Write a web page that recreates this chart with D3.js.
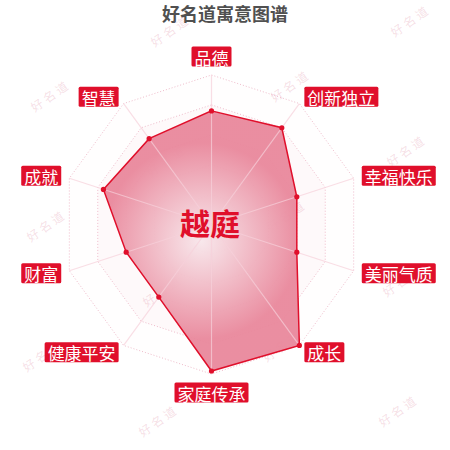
<!DOCTYPE html>
<html>
<head>
<meta charset="utf-8">
<script src="https://cdn.jsdelivr.net/npm/d3@7"></script>
<style>
  html, body { margin: 0; padding: 0; background: #fff; }
  svg { display: block; }
  text { font-family: "Noto Sans CJK SC", "Noto Sans", sans-serif; }
</style>
</head>
<body>
<svg id="chart" width="450" height="450"></svg>
<script>
// ---- data ----
const title = "好名道寓意图谱";
const centerName = "越庭";
const indicators = ["品德", "创新独立", "幸福快乐", "美丽气质", "成长", "家庭传承", "健康平安", "财富", "成就", "智慧"];
const scores = [76, 80, 60, 60, 100, 98, 60, 60, 76, 71];
const maxScore = 100;
const splitLevels = [20, 40, 60, 80, 100];
const watermarkText = "好名道";

// ---- layout ----
const W = 450, H = 450;
const cx = 211.5, cy = 224.5, R = 149.5;
const labelR = 158;
const red = "#e00f2b";

const svg = d3.select("#chart");
const defs = svg.append("defs");

const rScale = d3.scaleLinear().domain([0, maxScore]).range([0, R]);
const angle = d3.scaleLinear().domain([0, indicators.length]).range([0, 2 * Math.PI]);
const pt = (i, v) => {
  const a = angle(i), r = rScale(v);
  return [cx + r * Math.sin(a), cy - r * Math.cos(a)];
};

// watermarks
const wmLayer = svg.append("g");
for (let k = 0; k < 7; k++) {
  const xl = (k % 2 === 0 ? 170 : 52) - k * 2;
  const yl = 30 + 65 * k;
  [[xl, yl], [xl + 240, yl - 10]].forEach(([x, y]) => {
    wmLayer.append("text")
      .attr("transform", `translate(${x},${y}) rotate(-35)`)
      .attr("text-anchor", "middle")
      .attr("dominant-baseline", "central")
      .attr("font-size", 12)
      .attr("letter-spacing", 3)
      .attr("fill", "rgba(225,150,170,0.3)")
      .text(watermarkText);
  });
}

// split areas & rings
const ringPath = lvl => {
  const pts = indicators.map((_, i) => pt(i, lvl));
  return "M" + pts.map(p => p.join(",")).join("L") + "Z";
};
const gridLayer = svg.append("g");
const bandOpacity = [0.12, 0.1, 0.09, 0.07, 0.02];
for (let b = splitLevels.length - 1; b >= 0; b--) {
  gridLayer.append("path")
    .attr("d", ringPath(splitLevels[b]))
    .attr("fill", `rgba(240,190,205,${bandOpacity[b]})`)
    .attr("stroke", "none");
}
splitLevels.forEach(lvl => {
  gridLayer.append("path")
    .attr("d", ringPath(lvl))
    .attr("fill", "none")
    .attr("stroke", "#efbccb")
    .attr("stroke-width", 1)
    .attr("stroke-dasharray", "1,2");
});

// data polygon
const dataPts = scores.map((v, i) => pt(i, v));
const xs = d3.extent(dataPts, d => d[0]), ys = d3.extent(dataPts, d => d[1]);
const bw = xs[1] - xs[0], bh = ys[1] - ys[0];
const grad = defs.append("radialGradient")
  .attr("id", "fillGrad")
  .attr("gradientUnits", "userSpaceOnUse")
  .attr("cx", xs[0] + bw / 2)
  .attr("cy", ys[0] + bh / 2)
  .attr("r", 0.5 * Math.min(bw, bh));
grad.append("stop").attr("offset", "0%").attr("stop-color", "#f8e8ec");
grad.append("stop").attr("offset", "100%").attr("stop-color", "#e9889c");

svg.append("path")
  .attr("d", "M" + dataPts.map(p => p.join(",")).join("L") + "Z")
  .attr("fill", "url(#fillGrad)")
  .attr("fill-opacity", 0.95)
  .attr("stroke", "none");

// axis lines
const axisLayer = svg.append("g");
indicators.forEach((_, i) => {
  const [x, y] = pt(i, maxScore);
  axisLayer.append("line")
    .attr("x1", cx).attr("y1", cy).attr("x2", x).attr("y2", y)
    .attr("stroke", "rgba(246,208,218,0.7)")
    .attr("stroke-width", 1.2);
});

// polygon outline and points
svg.append("path")
  .attr("d", "M" + dataPts.map(p => p.join(",")).join("L") + "Z")
  .attr("fill", "none")
  .attr("stroke", red)
  .attr("stroke-width", 1.5);
svg.append("g").selectAll("circle").data(dataPts).join("circle")
  .attr("cx", d => d[0]).attr("cy", d => d[1]).attr("r", 2.6)
  .attr("fill", red);

// indicator labels
const labelLayer = svg.append("g");
indicators.forEach((name, i) => {
  const a = angle(i);
  const s = Math.sin(a), c = Math.cos(a);
  const ax = cx + labelR * s, ay = cy - labelR * c;
  const g = labelLayer.append("g");
  const t = g.append("text")
    .attr("font-size", 17)
    .attr("fill", "#fff")
    .attr("text-anchor", "middle")
    .attr("dominant-baseline", "central")
    .text(name);
  const tw = t.node().getComputedTextLength();
  const bwid = tw + 6, bhgt = 20;
  let bx, by;
  if (Math.abs(s) < 1e-6) bx = ax - bwid / 2;
  else if (s > 0) bx = ax;
  else bx = ax - bwid;
  if (Math.abs(s) < 1e-6) by = c > 0 ? ay - bhgt : ay;
  else by = ay - bhgt / 2;
  g.insert("rect", "text")
    .attr("x", bx).attr("y", by).attr("width", bwid).attr("height", bhgt)
    .attr("rx", 1.5)
    .attr("fill", red);
  t.attr("x", bx + bwid / 2).attr("y", by + bhgt / 2 + 0.5);
});

// center name
svg.append("text")
  .attr("x", 210).attr("y", 222)
  .attr("text-anchor", "middle")
  .attr("dominant-baseline", "central")
  .attr("font-size", 30)
  .attr("font-weight", "bold")
  .attr("fill", red)
  .text(centerName);

// title
svg.append("text")
  .attr("x", W / 2).attr("y", 13)
  .attr("text-anchor", "middle")
  .attr("dominant-baseline", "central")
  .attr("font-size", 18)
  .attr("font-weight", "bold")
  .attr("fill", "#505050")
  .text(title);
</script>
</body>
</html>
